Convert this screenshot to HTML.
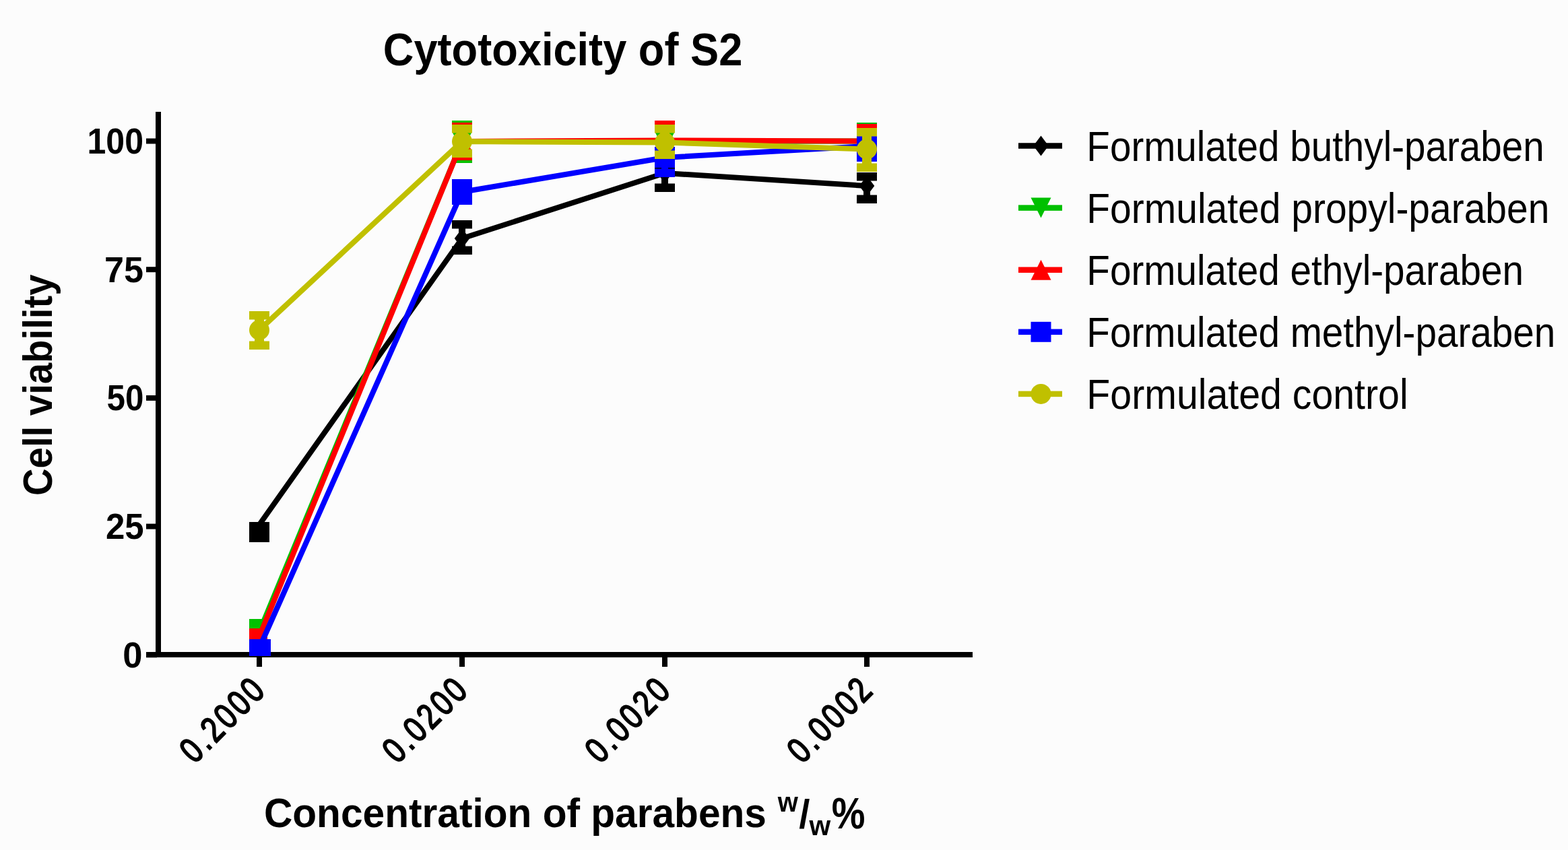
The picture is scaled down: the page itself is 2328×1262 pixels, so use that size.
<!DOCTYPE html>
<html><head><meta charset="utf-8"><title>Cytotoxicity of S2</title>
<style>html,body{margin:0;padding:0;background:#fcfcfc;} svg{display:block;} text{font-family:'Liberation Sans', Arial, sans-serif;fill:#000;}</style>
</head><body>
<svg width="2328" height="1262" viewBox="0 0 2328 1262">
<rect width="2328" height="1262" fill="#fcfcfc"/>
<text x="568.77" y="97.00" font-size="68.7" font-weight="bold" textLength="533.50" lengthAdjust="spacingAndGlyphs">Cytotoxicity of S2</text>
<g transform="translate(77.2 733.8) rotate(-90)"><text x="-2.25" y="0.00" font-size="60.8" font-weight="bold" textLength="328.53" lengthAdjust="spacingAndGlyphs">Cell viability</text></g>
<text x="391.95" y="1228.30" font-size="60.7" font-weight="bold" textLength="746.03" lengthAdjust="spacingAndGlyphs">Concentration of parabens</text>
<text x="1154.7" y="1204.6" font-size="40.6" font-weight="bold" textLength="30.1" lengthAdjust="spacingAndGlyphs">w</text>
<text x="1186.2" y="1229" font-size="59" font-weight="bold" textLength="16.2" lengthAdjust="spacingAndGlyphs">/</text>
<text x="1201.4" y="1240" font-size="40.6" font-weight="bold" textLength="31.7" lengthAdjust="spacingAndGlyphs">w</text>
<text x="1234.7" y="1230.4" font-size="64.3" font-weight="bold" textLength="49.7" lengthAdjust="spacingAndGlyphs">%</text>
<rect x="231" y="166" width="8" height="810" fill="#000"/>
<rect x="217" y="968" width="1227" height="8" fill="#000"/>
<rect x="217" y="205.5" width="16" height="8" fill="#000"/>
<text x="129.50" y="227.80" font-size="53" font-weight="bold" textLength="83.45" lengthAdjust="spacingAndGlyphs">100</text>
<rect x="217" y="396.2" width="16" height="8" fill="#000"/>
<text x="155.02" y="418.50" font-size="53" font-weight="bold" textLength="57.95" lengthAdjust="spacingAndGlyphs">75</text>
<rect x="217" y="586.9" width="16" height="8" fill="#000"/>
<text x="158.52" y="609.20" font-size="53" font-weight="bold" textLength="54.85" lengthAdjust="spacingAndGlyphs">50</text>
<rect x="217" y="777.6" width="16" height="8" fill="#000"/>
<text x="156.97" y="799.90" font-size="53" font-weight="bold" textLength="56.66" lengthAdjust="spacingAndGlyphs">25</text>
<rect x="217" y="968.3" width="16" height="8" fill="#000"/>
<text x="182.20" y="990.60" font-size="53" font-weight="bold" textLength="29.22" lengthAdjust="spacingAndGlyphs">0</text>
<rect x="381.0" y="974" width="8" height="16" fill="#000"/>
<rect x="682.0" y="974" width="8" height="16" fill="#000"/>
<rect x="983.0" y="974" width="8" height="16" fill="#000"/>
<rect x="1283.0" y="974" width="8" height="16" fill="#000"/>
<text transform="translate(395.5 1028.5) rotate(-45) scale(0.8 1)" text-anchor="end" font-size="53" font-weight="normal" stroke="#000" stroke-width="2.2" textLength="188.8" lengthAdjust="spacing">0.2000</text>
<text transform="translate(696.5 1028.5) rotate(-45) scale(0.8 1)" text-anchor="end" font-size="53" font-weight="normal" stroke="#000" stroke-width="2.2" textLength="188.8" lengthAdjust="spacing">0.0200</text>
<text transform="translate(997.5 1028.5) rotate(-45) scale(0.8 1)" text-anchor="end" font-size="53" font-weight="normal" stroke="#000" stroke-width="2.2" textLength="188.8" lengthAdjust="spacing">0.0020</text>
<text transform="translate(1297.5 1028.5) rotate(-45) scale(0.8 1)" text-anchor="end" font-size="53" font-weight="normal" stroke="#000" stroke-width="2.2" textLength="188.8" lengthAdjust="spacing">0.0002</text>
<polyline points="385,779 686,354 987,257 1287,276" fill="none" stroke="#000000" stroke-width="8" stroke-linejoin="round"/>
<rect x="370" y="775" width="30" height="30" fill="#000000"/>
<rect x="681.0" y="327" width="10" height="51" fill="#000000"/>
<rect x="671" y="327" width="30" height="12.5" fill="#000000"/>
<rect x="671" y="365.5" width="30" height="12.5" fill="#000000"/>
<polygon points="686,339.0 697.25,354 686,369.0 674.75,354" fill="#000000"/>
<rect x="982.0" y="240" width="10" height="45" fill="#000000"/>
<rect x="972" y="240" width="30" height="12.5" fill="#000000"/>
<rect x="972" y="272.5" width="30" height="12.5" fill="#000000"/>
<polygon points="987,242.0 998.25,257 987,272.0 975.75,257" fill="#000000"/>
<rect x="1282.0" y="256" width="10" height="46" fill="#000000"/>
<rect x="1272" y="256" width="30" height="12.5" fill="#000000"/>
<rect x="1272" y="289.5" width="30" height="12.5" fill="#000000"/>
<polygon points="1287,261.0 1298.25,276 1287,291.0 1275.75,276" fill="#000000"/>
<polyline points="385,938 686,210 987,210 1287,209.5" fill="none" stroke="#00C000" stroke-width="8" stroke-linejoin="round"/>
<rect x="370" y="919" width="26" height="18" fill="#00C000"/>
<rect x="681.0" y="179" width="10" height="63" fill="#00C000"/>
<rect x="671" y="179" width="30" height="12.5" fill="#00C000"/>
<rect x="671" y="229.5" width="30" height="12.5" fill="#00C000"/>
<polygon points="671.0,195.0 701.0,195.0 686,225.0" fill="#00C000"/>
<rect x="982.0" y="182" width="10" height="56" fill="#00C000"/>
<rect x="972" y="182" width="30" height="12.5" fill="#00C000"/>
<rect x="972" y="225.5" width="30" height="12.5" fill="#00C000"/>
<polygon points="972.0,195.0 1002.0,195.0 987,225.0" fill="#00C000"/>
<rect x="1282.0" y="182" width="10" height="56" fill="#00C000"/>
<rect x="1272" y="182" width="30" height="12.5" fill="#00C000"/>
<rect x="1272" y="225.5" width="30" height="12.5" fill="#00C000"/>
<polygon points="1272.0,194.5 1302.0,194.5 1287,224.5" fill="#00C000"/>
<polyline points="385,945 686,210 987,208.5 1287,209.5" fill="none" stroke="#FF0000" stroke-width="8" stroke-linejoin="round"/>
<rect x="370" y="933" width="27" height="18" fill="#FF0000"/>
<rect x="681.0" y="182" width="10" height="56" fill="#FF0000"/>
<rect x="671" y="182" width="30" height="12.5" fill="#FF0000"/>
<rect x="671" y="225.5" width="30" height="12.5" fill="#FF0000"/>
<polygon points="671.0,225.0 701.0,225.0 686,195.0" fill="#FF0000"/>
<rect x="982.0" y="179" width="10" height="57" fill="#FF0000"/>
<rect x="972" y="179" width="30" height="12.5" fill="#FF0000"/>
<rect x="972" y="223.5" width="30" height="12.5" fill="#FF0000"/>
<polygon points="972.0,223.5 1002.0,223.5 987,193.5" fill="#FF0000"/>
<rect x="1282.0" y="184" width="10" height="52" fill="#FF0000"/>
<rect x="1272" y="184" width="30" height="12.5" fill="#FF0000"/>
<rect x="1272" y="223.5" width="30" height="12.5" fill="#FF0000"/>
<polygon points="1272.0,224.5 1302.0,224.5 1287,194.5" fill="#FF0000"/>
<polyline points="385,962 686,285 987,234 1287,217" fill="none" stroke="#0000FF" stroke-width="8" stroke-linejoin="round"/>
<rect x="370" y="949" width="32" height="25" fill="#0000FF"/>
<rect x="681.0" y="266" width="10" height="38" fill="#0000FF"/>
<rect x="671" y="266" width="30" height="12.5" fill="#0000FF"/>
<rect x="671" y="291.5" width="30" height="12.5" fill="#0000FF"/>
<rect x="671.0" y="270.0" width="30" height="30" fill="#0000FF"/>
<rect x="982.0" y="218" width="10" height="45" fill="#0000FF"/>
<rect x="972" y="218" width="30" height="12.5" fill="#0000FF"/>
<rect x="972" y="250.5" width="30" height="12.5" fill="#0000FF"/>
<rect x="972.0" y="219.0" width="30" height="30" fill="#0000FF"/>
<rect x="1282.0" y="200" width="10" height="40" fill="#0000FF"/>
<rect x="1272" y="200" width="30" height="12.5" fill="#0000FF"/>
<rect x="1272" y="227.5" width="30" height="12.5" fill="#0000FF"/>
<rect x="1272.0" y="202.0" width="30" height="30" fill="#0000FF"/>
<polyline points="385,490 686,210 987,211.5 1287,221.5" fill="none" stroke="#C0C000" stroke-width="8" stroke-linejoin="round"/>
<rect x="378.0" y="462" width="14" height="57" fill="#C0C000"/>
<rect x="370" y="462" width="30" height="12.5" fill="#C0C000"/>
<rect x="370" y="506.5" width="30" height="12.5" fill="#C0C000"/>
<circle cx="385" cy="490" r="15.0" fill="#C0C000"/>
<rect x="679.0" y="185" width="14" height="49" fill="#C0C000"/>
<rect x="671" y="185" width="30" height="12.5" fill="#C0C000"/>
<rect x="671" y="221.5" width="30" height="12.5" fill="#C0C000"/>
<circle cx="686" cy="210" r="15.0" fill="#C0C000"/>
<rect x="980.0" y="185" width="14" height="51" fill="#C0C000"/>
<rect x="972" y="185" width="30" height="12.5" fill="#C0C000"/>
<rect x="972" y="223.5" width="30" height="12.5" fill="#C0C000"/>
<circle cx="987" cy="211.5" r="15.0" fill="#C0C000"/>
<rect x="1280.0" y="190" width="14" height="65" fill="#C0C000"/>
<rect x="1272" y="190" width="30" height="12.5" fill="#C0C000"/>
<rect x="1272" y="242.5" width="30" height="12.5" fill="#C0C000"/>
<circle cx="1287" cy="221.5" r="15.0" fill="#C0C000"/>
<rect x="1512" y="212.25" width="65" height="8.5" fill="#000000"/>
<polygon points="1545.5,201.5 1556.75,216.5 1545.5,231.5 1534.25,216.5" fill="#000000"/>
<text x="1613.37" y="238.90" font-size="62.5" font-weight="normal" textLength="679.32" lengthAdjust="spacingAndGlyphs">Formulated buthyl-paraben</text>
<rect x="1512" y="304.35" width="65" height="8.5" fill="#00C000"/>
<polygon points="1530.5,293.6 1560.5,293.6 1545.5,323.6" fill="#00C000"/>
<text x="1613.34" y="331.00" font-size="62.5" font-weight="normal" textLength="687.09" lengthAdjust="spacingAndGlyphs">Formulated propyl-paraben</text>
<rect x="1512" y="396.45" width="65" height="8.5" fill="#FF0000"/>
<polygon points="1530.5,415.7 1560.5,415.7 1545.5,385.7" fill="#FF0000"/>
<text x="1613.37" y="423.10" font-size="62.5" font-weight="normal" textLength="648.59" lengthAdjust="spacingAndGlyphs">Formulated ethyl-paraben</text>
<rect x="1512" y="488.55" width="65" height="8.5" fill="#0000FF"/>
<rect x="1530.5" y="477.8" width="30" height="30" fill="#0000FF"/>
<text x="1613.37" y="515.20" font-size="62.5" font-weight="normal" textLength="695.96" lengthAdjust="spacingAndGlyphs">Formulated methyl-paraben</text>
<rect x="1512" y="580.65" width="65" height="8.5" fill="#C0C000"/>
<circle cx="1545.5" cy="584.9" r="15.0" fill="#C0C000"/>
<text x="1613.32" y="607.30" font-size="62.5" font-weight="normal" textLength="477.32" lengthAdjust="spacingAndGlyphs">Formulated control</text>
</svg>
</body></html>
